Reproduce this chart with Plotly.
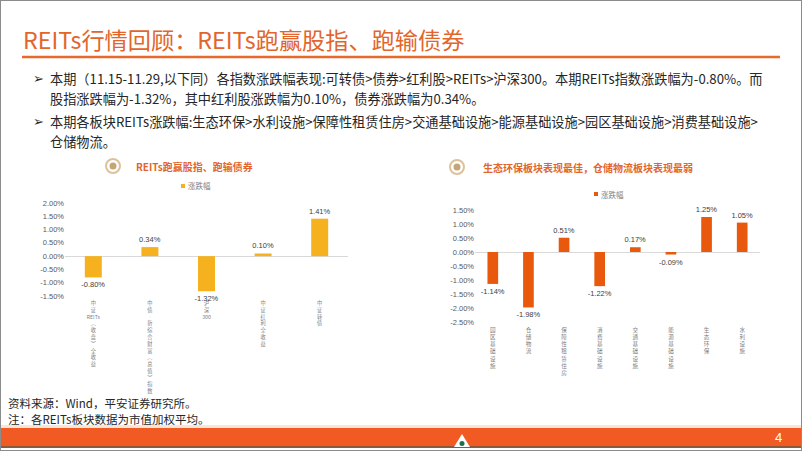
import re
import plotly.graph_objects as go

W, H = 802, 451

CJK = "Noto Sans CJK SC"
NUM = "Liberation Sans, Arial, sans-serif"
ORANGE = "#E2652C"

left_categories = ["中证REITs(收盘)全收益", "中债-新综合财富(总值)指数", "沪深300",
                   "中证红利全收益", "中证转债"]
left_values = [-0.80, 0.34, -1.32, 0.10, 1.41]

right_categories = ["园区基础设施", "仓储物流", "保障性租赁住房", "消费基础设施",
                    "交通基础设施", "能源基础设施", "生态环保", "水利设施"]
right_values = [-1.14, -1.98, 0.51, -1.22, 0.17, -0.09, 1.25, 1.05]

left_yticks = [-1.5, -1.0, -0.5, 0.0, 0.5, 1.0, 1.5, 2.0]
right_yticks = [-2.5, -2.0, -1.5, -1.0, -0.5, 0.0, 0.5, 1.0, 1.5]

bullets = [
    "本期（11.15-11.29,以下同）各指数涨跌幅表现:可转债>债券>红利股>REITs>沪深300。本期REITs指数涨跌幅为-0.80%。而",
    "股指涨跌幅为-1.32%，其中红利股涨跌幅为0.10%，债券涨跌幅为0.34%。",
    "本期各板块REITs涨跌幅:生态环保>水利设施>保障性租赁住房>交通基础设施>能源基础设施>园区基础设施>消费基础设施>",
    "仓储物流。",
]

VERTICAL = {"(": "︵", ")": "︶", "-": "︲"}


def stack(label):
    """Write a label top-to-bottom, one character (or latin run) per line."""
    parts = re.findall(r"[A-Za-z0-9]+|.", label)
    return "<br>".join(VERTICAL.get(p, p) for p in parts)


def X(px):
    return px / W


def Y(py):
    return 1 - py / H


fig = go.Figure()

fig.add_trace(go.Bar(
    x=left_categories, y=left_values, width=0.3,
    marker=dict(color="#F5B11E", line=dict(width=0)),
    text=[f"{v:.2f}%" for v in left_values], textposition="outside",
    textfont=dict(family=NUM, size=7.5, color="#404040"),
    cliponaxis=False, constraintext="none",
    xaxis="x", yaxis="y", showlegend=False, hoverinfo="x+y",
))

fig.add_trace(go.Bar(
    x=right_categories, y=right_values, width=0.3,
    marker=dict(color="#E8590E", line=dict(width=0)),
    text=[f"{v:.2f}%" for v in right_values], textposition="outside",
    textfont=dict(family=NUM, size=7.5, color="#404040"),
    cliponaxis=False, constraintext="none",
    xaxis="x2", yaxis="y2", showlegend=False, hoverinfo="x+y",
))

xcommon = dict(showgrid=False, showline=False, ticks="", tickangle=0,
               tickmode="array", fixedrange=True, ticklabelstandoff=3)
ycommon = dict(showgrid=False, showline=False, ticks="", zeroline=True,
               zerolinecolor="#D9D9D9", zerolinewidth=1, tickmode="array",
               tickfont=dict(family=NUM, size=7.5, color="#595959"))

fig.update_layout(
    width=W, height=H,
    margin=dict(l=0, r=0, t=0, b=0),
    paper_bgcolor="white", plot_bgcolor="white",
    template="none",
    xaxis=dict(domain=[X(65), X(348)], anchor="y",
               tickvals=left_categories, ticktext=[stack(c) for c in left_categories],
               tickfont=dict(family=CJK, size=5.2, color="#7F7F7F"), **xcommon),
    yaxis=dict(domain=[Y(296), Y(203)], anchor="x", range=[-1.5, 2.0],
               tickvals=left_yticks, ticktext=[f"{v:.2f}%" for v in left_yticks],
               **ycommon),
    xaxis2=dict(domain=[X(475), X(760)], anchor="y2",
                tickvals=right_categories, ticktext=[stack(c) for c in right_categories],
                tickfont=dict(family=CJK, size=5.6, color="#7F7F7F"), **xcommon),
    yaxis2=dict(domain=[Y(322), Y(210)], anchor="x2", range=[-2.5, 1.5],
                tickvals=right_yticks, ticktext=[f"{v:.2f}%" for v in right_yticks],
                **ycommon),
)

shapes = []
annotations = []


def rect(x0, y0, x1, y1, color):
    shapes.append(dict(type="rect", xref="paper", yref="paper", x0=X(x0), x1=X(x1),
                       y0=Y(y1), y1=Y(y0), fillcolor=color, line=dict(width=0),
                       layer="below"))


def text(x, y, s, size, color="#262626", family=CJK, anchor="left"):
    annotations.append(dict(xref="paper", yref="paper", x=X(x), y=Y(y), text=s,
                            showarrow=False, xanchor=anchor, yanchor="middle",
                            font=dict(family=family, size=size, color=color)))


# heading and rule
text(21, 39, "REITs行情回顾：REITs跑赢股指、跑输债券", 23.2, ORANGE)
shapes.append(dict(type="line", xref="paper", yref="paper", x0=X(22), x1=X(780),
                   y0=Y(57), y1=Y(57), line=dict(color="#E8692C", width=2.5)))

# bullet text
for (row_y, line) in zip([78, 98, 121, 141], bullets):
    text(48, row_y, line, 13.2)
for row_y in [78, 121]:
    text(31, row_y, "➢", 13, "#262626", "DejaVu Sans")

# chart titles with round icons
for cx, cy, tx, title in [(113, 166, 134, "REITs跑赢股指、跑输债券"),
                          (457, 167, 481, "生态环保板块表现最佳，仓储物流板块表现最弱")]:
    shapes.append(dict(type="circle", xref="paper", yref="paper",
                       x0=X(cx - 7), x1=X(cx + 7), y0=Y(cy + 7), y1=Y(cy - 7),
                       fillcolor="white", line=dict(color="#DCC19C", width=2)))
    shapes.append(dict(type="circle", xref="paper", yref="paper",
                       x0=X(cx - 3.5), x1=X(cx + 3.5), y0=Y(cy + 3.5), y1=Y(cy - 3.5),
                       fillcolor="#C6A574", line=dict(width=0)))
    text(tx, cy, f"<b>{title}</b>", 10, ORANGE)

# legends
for sx, sy, color in [(181, 186, "#F5B11E"), (594, 194, "#E8590E")]:
    rect(sx, sy - 2, sx + 4, sy + 2, color)
    text(sx + 5, sy, "涨跌幅", 7.5, "#7F7F7F")

# source notes
text(6, 403, "资料来源：Wind，平安证券研究所。", 11.5)
text(6, 419, "注：各REITs板块数据为市值加权平均。", 11.5)

# footer band
rect(0, 425, W, 428, "#FCE3D3")
rect(0, 428, W, 446, "#F15A22")
rect(0, 446, W, 448, "#8A5A3C")
shapes.append(dict(type="path", xref="paper", yref="paper",
                   path=f"M {X(462)},{Y(434)} L {X(470)},{Y(447)} L {X(454)},{Y(447)} Z",
                   fillcolor="white", line=dict(width=0)))
shapes.append(dict(type="circle", xref="paper", yref="paper",
                   x0=X(459.5), x1=X(464.5), y0=Y(446), y1=Y(441),
                   fillcolor="#1E6F4C", line=dict(width=0)))
text(778, 437, "4", 13, "white", NUM, "center")

# slide frame
shapes.append(dict(type="rect", xref="paper", yref="paper", x0=0, x1=1, y0=0, y1=1,
                   fillcolor="rgba(0,0,0,0)", line=dict(color="#8C8C8C", width=2)))

fig.update_layout(shapes=shapes, annotations=annotations)

# the page body has a default 8px margin; drop it so the slide sits at 0,0
fig.write_html("out.html", config={"displayModeBar": False},
               post_script="document.body.style.margin='0';")
